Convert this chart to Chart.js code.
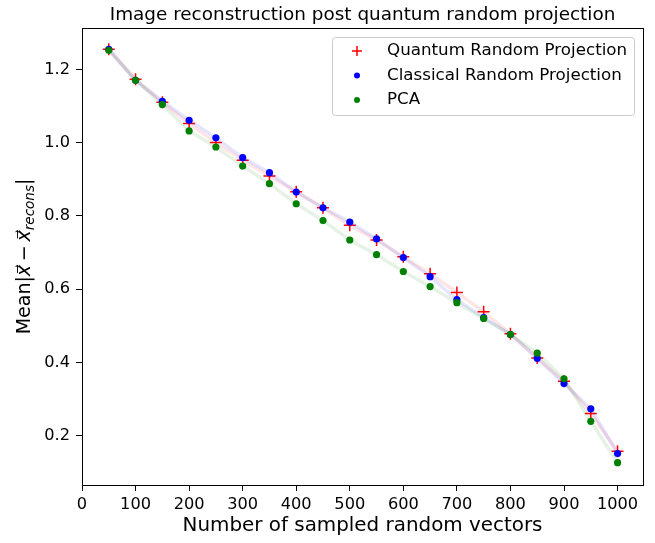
<!DOCTYPE html>
<html>
<head>
<meta charset="utf-8">
<script src="https://cdn.jsdelivr.net/npm/chart.js@4/dist/chart.umd.min.js"></script>
<style>
  body { margin: 0; background: #fff; }
</style>
</head>
<body>
<canvas id="chart" width="655" height="543"></canvas>
<script>
// data
var sampled = [50, 100, 150, 200, 250, 300, 350, 400, 450, 500, 550, 600, 650, 700, 750, 800, 850, 900, 950, 1000];
var quantum = [1.255, 1.173, 1.110, 1.052, 1.000, 0.952, 0.909, 0.866, 0.822, 0.774, 0.734, 0.688, 0.642, 0.591, 0.538, 0.478, 0.412, 0.348, 0.260, 0.157];
var classical = [1.255, 1.170, 1.113, 1.061, 1.013, 0.959, 0.918, 0.865, 0.822, 0.783, 0.737, 0.686, 0.634, 0.571, 0.522, 0.476, 0.411, 0.342, 0.273, 0.151];
var pca = [1.252, 1.170, 1.104, 1.032, 0.988, 0.936, 0.888, 0.833, 0.787, 0.734, 0.694, 0.648, 0.607, 0.563, 0.520, 0.476, 0.425, 0.355, 0.239, 0.126];
var xTicks = [0, 100, 200, 300, 400, 500, 600, 700, 800, 900, 1000];
var yTicks = [0.2, 0.4, 0.6, 0.8, 1.0, 1.2];

var FONT = "'DejaVu Sans', sans-serif";
var TITLE = 'Image reconstruction post quantum random projection';

function points(ys) {
  return sampled.map((x, i) => ({x: x, y: ys[i]}));
}

// title centred over the axes, like matplotlib
var axesTitle = {
  id: 'axesTitle',
  afterDraw(chart) {
    var ctx = chart.ctx, a = chart.chartArea;
    ctx.save();
    ctx.font = '18.4px ' + FONT;
    ctx.fillStyle = '#000';
    ctx.textAlign = 'center';
    ctx.textBaseline = 'alphabetic';
    ctx.fillText(TITLE, (a.left + a.right) / 2, 19.5);
    ctx.restore();
  }
};

// all four spines (chart.js only draws the axis borders)
var frame = {
  id: 'frame',
  afterDatasetsDraw(chart) {
    var a = chart.chartArea, ctx = chart.ctx;
    ctx.save();
    ctx.strokeStyle = '#000';
    ctx.lineWidth = 1;
    ctx.strokeRect(Math.round(a.left) + 0.5, Math.round(a.top) + 0.5,
      Math.round(a.right - a.left), Math.round(a.bottom - a.top));
    ctx.restore();
  }
};

// matplotlib style legend inside the axes
var boxLegend = {
  id: 'boxLegend',
  afterDraw(chart) {
    var ctx = chart.ctx, a = chart.chartArea;
    var w = 302, h = 78;
    var x = a.right - 9 - w, y = a.top + 9;
    ctx.save();
    ctx.beginPath();
    ctx.roundRect(x + 0.5, y + 0.5, w, h, 3);
    ctx.fillStyle = 'rgba(255,255,255,0.8)';
    ctx.fill();
    ctx.strokeStyle = '#cccccc';
    ctx.lineWidth = 1;
    ctx.stroke();
    ctx.font = '16.7px ' + FONT;
    ctx.textBaseline = 'middle';
    chart.data.datasets.forEach((ds, i) => {
      var cy = y + 14 + i * 24.5;
      ctx.fillStyle = ds.pointBackgroundColor;
      ctx.strokeStyle = ds.pointBorderColor;
      ctx.lineWidth = ds.pointBorderWidth;
      Chart.helpers.drawPoint(ctx, {
        pointStyle: ds.pointStyle,
        radius: ds.pointStyle === 'cross' ? 5 : 3,
        borderWidth: ds.pointBorderWidth,
        rotation: 0
      }, x + 25, cy);
      ctx.fillStyle = '#000';
      ctx.fillText(ds.label, x + 55, cy);
    });
    ctx.restore();
  }
};

// y label with vector arrows and subscript
var yLabel = {
  id: 'yLabel',
  afterDraw(chart) {
    var ctx = chart.ctx, a = chart.chartArea;
    var parts = [
      {t: 'Mean|', f: '19px ' + FONT, dy: 0},
      {t: 'x\u20D7', f: 'italic 19px ' + FONT, dy: 0},
      {t: '\u2009\u2212\u2009', f: '19px ' + FONT, dy: 0},
      {t: 'x\u20D7', f: 'italic 19px ' + FONT, dy: 0},
      {t: 'recons', f: 'italic 13.5px ' + FONT, dy: 4},
      {t: '|', f: '19px ' + FONT, dy: 0}
    ];
    ctx.save();
    var total = 0;
    parts.forEach(p => { ctx.font = p.f; p.w = ctx.measureText(p.t).width; total += p.w; });
    ctx.translate(30, (a.top + a.bottom) / 2);
    ctx.rotate(-Math.PI / 2);
    ctx.fillStyle = '#000';
    ctx.textBaseline = 'alphabetic';
    var cx = -total / 2;
    parts.forEach(p => {
      ctx.font = p.f;
      ctx.fillText(p.t, cx, p.dy);
      cx += p.w;
    });
    ctx.restore();
  }
};

new Chart(document.getElementById('chart'), {
  type: 'line',
  data: {
    datasets: [
      {
        label: 'Quantum Random Projection',
        data: points(quantum),
        borderColor: 'rgba(255,0,0,0.1)',
        borderWidth: 3.5,
        pointStyle: 'cross',
        pointRadius: 6,
        pointBorderWidth: 1.5,
        pointBorderColor: '#ff0000',
        pointBackgroundColor: '#ff0000',
        order: 2
      },
      {
        label: 'Classical Random Projection',
        data: points(classical),
        borderColor: 'rgba(0,0,255,0.1)',
        borderWidth: 3.5,
        pointStyle: 'circle',
        pointRadius: 3.6,
        pointBorderWidth: 0,
        pointBorderColor: '#0000ff',
        pointBackgroundColor: '#0000ff',
        order: 1
      },
      {
        label: 'PCA',
        data: points(pca),
        borderColor: 'rgba(0,128,0,0.1)',
        borderWidth: 3.5,
        pointStyle: 'circle',
        pointRadius: 3.6,
        pointBorderWidth: 0,
        pointBorderColor: '#008000',
        pointBackgroundColor: '#008000',
        order: 0
      }
    ]
  },
  options: {
    responsive: false,
    devicePixelRatio: 1,
    animation: false,
    layout: { padding: { left: 0, right: 12, top: 28, bottom: 0 } },
    plugins: {
      legend: { display: false },
      tooltip: { enabled: false },
      title: { display: false }
    },
    scales: {
      x: {
        type: 'linear',
        min: 0,
        max: 1047.5,
        afterFit: s => { s.height = 58; },
        afterBuildTicks: s => { s.ticks = xTicks.map(v => ({value: v})); },
        border: { display: false },
        grid: { drawOnChartArea: false, drawTicks: true, tickLength: 6, color: '#000', tickWidth: 1 },
        ticks: { color: '#000', padding: 4, maxRotation: 0, font: { family: FONT, size: 16.2 }, callback: v => String(v) },
        title: {
          display: true,
          text: 'Number of sampled random vectors',
          color: '#000',
          font: { family: FONT, size: 19.9 },
          padding: { top: 0, bottom: 5 }
        }
      },
      y: {
        type: 'linear',
        min: 0.065,
        max: 1.313,
        afterFit: s => { s.width = 82; },
        afterBuildTicks: s => { s.ticks = yTicks.map(v => ({value: v})); },
        border: { display: false },
        grid: { drawOnChartArea: false, drawTicks: true, tickLength: 6, color: '#000', tickWidth: 1 },
        ticks: { color: '#000', padding: 6, font: { family: FONT, size: 16.2 }, callback: v => v.toFixed(1) }
      }
    }
  },
  plugins: [frame, boxLegend, yLabel, axesTitle]
});
</script>
</body>
</html>
